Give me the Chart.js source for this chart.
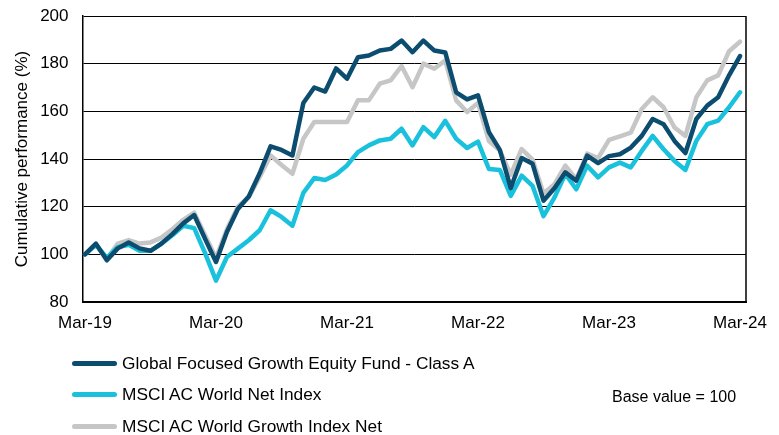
<!DOCTYPE html>
<html><head><meta charset="utf-8">
<script src="https://cdn.jsdelivr.net/npm/chart.js@4"></script>
<style>
html,body{margin:0;padding:0;background:#fff;}
#wrap{position:relative;width:779px;height:435px;overflow:hidden;}
canvas{position:absolute;left:0;top:0;}
.leg{position:absolute;font-family:"Liberation Sans",Arial,sans-serif;font-size:17.3px;color:#000;white-space:nowrap;line-height:20px;}
.sw{position:absolute;height:5px;border-radius:3px;}
</style></head><body>
<div id="wrap"><canvas id="c" width="779" height="435"></canvas><div id="legend"></div></div>
<script>
const months = ["Mar-19","Apr-19","May-19","Jun-19","Jul-19","Aug-19","Sep-19","Oct-19","Nov-19","Dec-19","Jan-20","Feb-20",
"Mar-20","Apr-20","May-20","Jun-20","Jul-20","Aug-20","Sep-20","Oct-20","Nov-20","Dec-20","Jan-21","Feb-21",
"Mar-21","Apr-21","May-21","Jun-21","Jul-21","Aug-21","Sep-21","Oct-21","Nov-21","Dec-21","Jan-22","Feb-22",
"Mar-22","Apr-22","May-22","Jun-22","Jul-22","Aug-22","Sep-22","Oct-22","Nov-22","Dec-22","Jan-23","Feb-23",
"Mar-23","Apr-23","May-23","Jun-23","Jul-23","Aug-23","Sep-23","Oct-23","Nov-23","Dec-23","Jan-24","Feb-24","Mar-24"];

const fund = [100,104.5,97.5,102.5,105,102.5,101.5,104.5,108.5,113,116.5,106.5,96.8,
109.4,119,124.3,134,145.3,143.8,141.5,163.5,170,168.3,178,173.7,
182.7,183.4,185.5,186.2,189.7,184.8,189.7,185.5,184.7,168,165,166.7,
151.3,143.8,127.8,140.4,138,122.5,127.7,134.4,130.9,141.4,138.3,141.2,
142,144.8,149.7,156.8,154.6,147.6,142.5,156.8,162.4,165.9,175.1,183.2];

const acwi = [100,104,98.5,103,104,101.5,101.5,104.5,108,112,111,100.5,89,
98.9,102.4,105.9,110.1,118.5,115.7,112,125.8,132,131.2,133.5,137.3,
142.9,145.7,147.8,148.5,152.7,145.7,153.4,149.2,156,148.5,144.6,147.3,
135.8,135.4,124.5,133,128.7,116,123.8,133.7,127.3,137.2,132.3,136.5,
138.5,136.5,143.4,149.7,144.1,139.2,135.4,147.6,154.6,156.1,161.7,168];

const growth = [100,104,98,104.5,106,104.5,105,107,110.5,114.5,117.5,108,98.5,
110.5,120,124,132.5,141.5,137.5,133.8,148.5,155.5,155.5,155.5,155.5,
164.6,164.6,171.6,173,179,170.1,180,177.9,181.3,164.6,159.7,163.5,
147.5,143.5,133.4,144.2,139.7,125.5,129.4,137.2,131.5,142.3,140.4,148,
149.5,151.1,161,165.9,161.7,153.2,149.7,165.9,173,175.1,185.2,189.2];

const seriesNames = ["Global Focused Growth Equity Fund - Class A","MSCI AC World Net Index","MSCI AC World Growth Index Net"];
const seriesColors = ["#0c4d6f","#19c1dc","#c6c6c6"];
const xTickLabels = ["Mar-19","Mar-20","Mar-21","Mar-22","Mar-23","Mar-24"];
const yTicks = [80,100,120,140,160,180,200];
const yTitle = "Cumulative performance (%)";
const note = "Base value = 100";

const FONT = '"Liberation Sans", Arial, sans-serif';
const toPts = arr => arr.map((v,i)=>({x:i,y:v}));
const seriesData = [fund, acwi, growth];

const rightBorder = {
  id:'rightBorder',
  beforeDatasetsDraw(chart){
    const {ctx, chartArea:a} = chart;
    ctx.save(); ctx.strokeStyle='#000'; ctx.lineWidth=1.5;
    ctx.beginPath(); ctx.moveTo(a.right, a.top); ctx.lineTo(a.right, a.bottom+1); ctx.stroke(); ctx.restore();
  }
};

new Chart(document.getElementById('c'), {
  type:'line',
  data:{datasets: seriesData.map((d,k)=>({
    label: seriesNames[k], data: toPts(d), borderColor: seriesColors[k], backgroundColor: seriesColors[k],
    borderWidth:4.5, pointRadius:0, tension:0, borderJoinStyle:'round', borderCapStyle:'round', fill:false
  }))},
  options:{
    responsive:false, animation:false, devicePixelRatio:1,
    layout:{padding:{left:0,right:33,top:16,bottom:103}},
    plugins:{legend:{display:false}, tooltip:{enabled:false}},
    scales:{
      x:{type:'linear', min:-0.23, max:60.55,
        afterBuildTicks:s=>{ s.ticks = xTickLabels.map(l=>({value: months.indexOf(l)})); },
        afterFit:s=>{ s.height = 30; s.paddingLeft = 0; s.paddingRight = 0; },
        ticks:{callback:v=>months[v], autoSkip:false, maxRotation:0, color:'#000', font:{family:FONT,size:17}, padding:11},
        grid:{display:false, drawTicks:false},
        border:{display:true, color:'#000', width:2}
      },
      y:{min:80, max:200,
        afterBuildTicks:s=>{ s.ticks = yTicks.map(v=>({value:v})); },
        afterFit:s=>{ s.width = 82.5; s.paddingTop = 0; s.paddingBottom = 0; },
        ticks:{color:'#000', font:{family:FONT,size:17}, padding:14},
        grid:{color:'#000', lineWidth:1, drawTicks:false},
        border:{display:true, color:'#000', width:1.5},
        title:{display:true, text:yTitle, color:'#000', font:{family:FONT,size:17}, padding:{top:12,bottom:0}}
      }
    }
  },
  plugins:[rightBorder]
});

const leg = document.getElementById('legend');
const legY = [363, 394, 426];
seriesNames.forEach((n,k)=>{
  const sw = document.createElement('div'); sw.className='sw';
  sw.style.cssText = `left:72px;top:${legY[k]-2.5}px;width:45px;background:${seriesColors[k]}`;
  leg.appendChild(sw);
  const t = document.createElement('div'); t.className='leg';
  t.style.cssText = `left:122px;top:${legY[k]-10}px`; t.textContent = n; leg.appendChild(t);
});
const nt = document.createElement('div'); nt.className='leg';
nt.style.cssText = 'left:612px;top:387px;font-size:16px'; nt.textContent = note; leg.appendChild(nt);
</script>
</body></html>
